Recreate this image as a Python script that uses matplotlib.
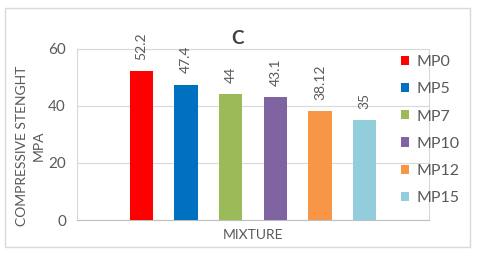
import matplotlib.pyplot as plt
from matplotlib.patches import Rectangle, Patch

# data
mixes = ["MP0", "MP5", "MP7", "MP10", "MP12", "MP15"]
strength = [52.2, 47.4, 44, 43.1, 38.12, 35]
value_labels = ["52.2", "47.4", "44", "43.1", "38.12", "35"]
colors = ["#FF0000", "#0070C0", "#9BBB59", "#8064A2", "#F79646", "#92CDDC"]
yticks = [0, 20, 40, 60]

plt.rcParams['font.family'] = ['Lato', 'DejaVu Sans']
txt = "#595959"

fig = plt.figure(figsize=(4.8, 2.54), dpi=100)
fig.patches.append(Rectangle((5/480, 1-247/254), 465/480, 239/254, transform=fig.transFigure,
                             fill=False, edgecolor="#D9D9D9", linewidth=1))
ax = fig.add_axes([77/480, 1-220/254, 352/480, 171.5/254])

x = list(range(len(mixes)))
bars = ax.bar(x, strength, width=0.52, color=colors, zorder=3)
for xi, v, lab in zip(x, strength, value_labels):
    ax.annotate(lab, (xi, v), xytext=(0, 8), textcoords="offset points",
                rotation=90, ha="center", va="bottom", fontsize=10, color=txt)

ax.set_xlim(-1.44, 6.44)
ax.set_ylim(0, 60)
ax.set_yticks(yticks)
ax.set_xticks([])
ax.tick_params(axis="y", length=0, labelsize=11, colors=txt, pad=8)
ax.grid(axis="y", color="#D9D9D9", linewidth=0.8, zorder=0)
for s in ax.spines.values():
    s.set_color("#D9D9D9")
    s.set_linewidth(0.8)
ax.spines["bottom"].set_color("#BFBFBF")

fig.text(238/480, 1-38/254, "C", ha="center", va="center", fontsize=13.5, fontweight="bold", color="#404040")
fig.text(30/480, 1-146/254, "COMPRESSIVE STENGHT\nMPA", rotation=90, ha="center", va="center",
         multialignment="center", fontsize=10, color=txt, linespacing=1.45)
fig.text(253/480, 1-235/254, "MIXTURE", ha="center", va="center", fontsize=10, color=txt)

handles = [Patch(facecolor=c, label=m) for c, m in zip(colors, mixes)]
leg = fig.legend(handles=handles, loc="upper left", bbox_to_anchor=(395/480, 1-49/254),
                 frameon=False, fontsize=11.5, handlelength=0.5, handleheight=0.5,
                 handletextpad=0.45, labelspacing=0.82, borderaxespad=0)
for t in leg.get_texts():
    t.set_color(txt)

fig.savefig("out.png", dpi=100)
